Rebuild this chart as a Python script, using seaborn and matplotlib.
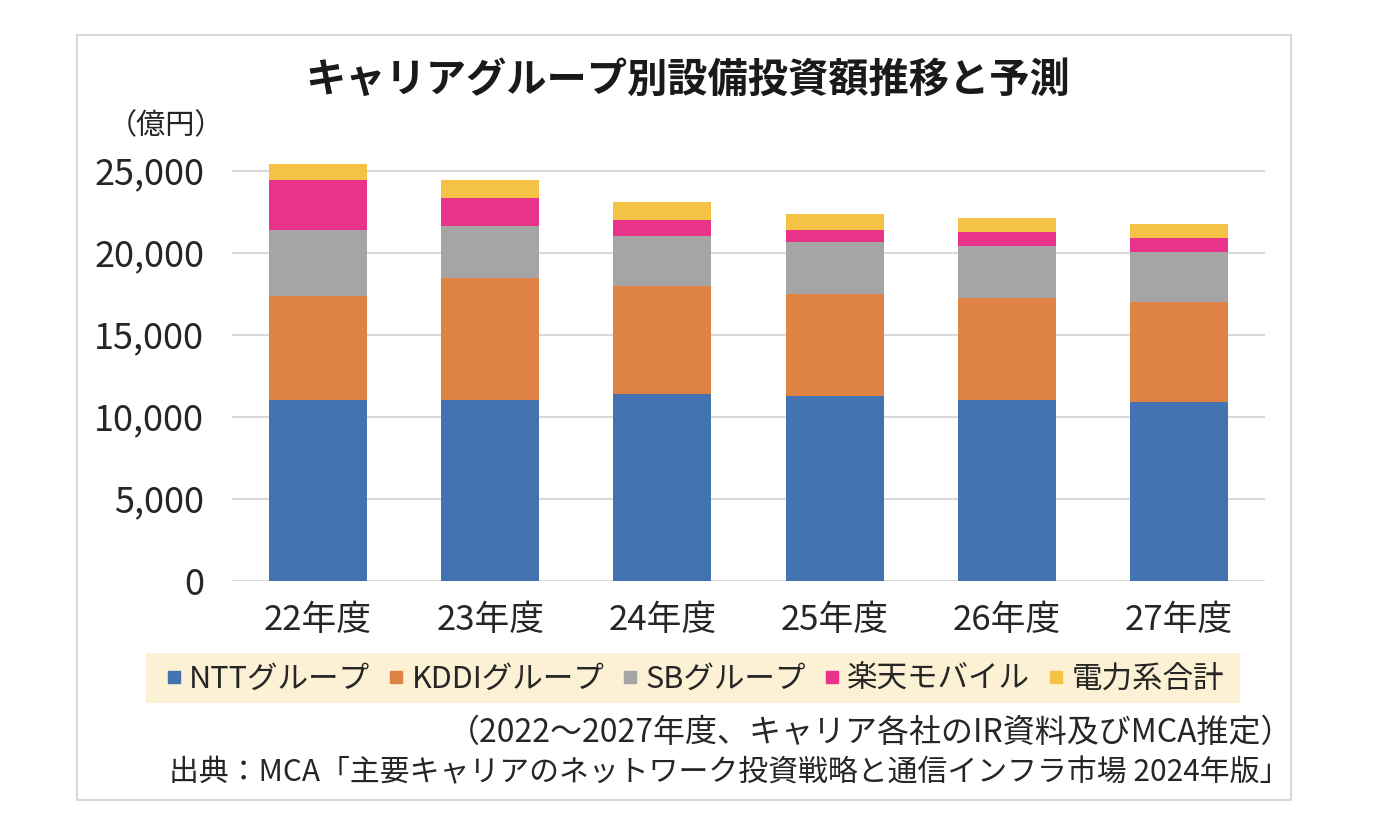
import numpy as np
import pandas as pd
import matplotlib
matplotlib.use("Agg")
import matplotlib.pyplot as plt
from matplotlib.patches import Rectangle
from matplotlib.lines import Line2D
import seaborn as sns

# data (億円)
years = ['22年度', '23年度', '24年度', '25年度', '26年度', '27年度']
groups = ['NTTグループ', 'KDDIグループ', 'SBグループ', '楽天モバイル', '電力系合計']
ntt = [11000, 11020, 11400, 11280, 11040, 10920]
kddi = [6360, 7460, 6590, 6220, 6220, 6080]
sb = [4020, 3150, 3030, 3150, 3150, 3050]
rakuten = [3050, 1730, 1000, 730, 870, 870]
power = [980, 1080, 1100, 1000, 850, 850]
colors = ['#4373B1', '#DF8344', '#A5A5A5', '#E9338A', '#F4C245']

title = 'キャリアグループ別設備投資額推移と予測'
note1 = '（2022～2027年度、キャリア各社のIR資料及びMCA推定）'
note2 = '出典：MCA「主要キャリアのネットワーク投資戦略と通信インフラ市場 2024年版」'

sns.set_theme(style='white')
plt.rcParams['font.family'] = ['Noto Sans CJK JP', 'DejaVu Sans']

W, H = 1382, 838
fig = plt.figure(figsize=(W / 100, H / 100), dpi=100)
fig.patch.set_facecolor('white')


def fx(px):
    return px / W


def fy(py):
    return 1 - py / H


ax = fig.add_axes([fx(232), fy(580.7), fx(1265) - fx(232), fy(154.3) - fy(580.7)])

# stacked bars: draw cumulative totals, tallest first
df = pd.DataFrame({'year': years, 'NTT': ntt, 'KDDI': kddi, 'SB': sb,
                   'Rakuten': rakuten, 'Power': power})
cols = ['NTT', 'KDDI', 'SB', 'Rakuten', 'Power']
cum = df[cols].cumsum(axis=1)
for i in reversed(range(len(cols))):
    sns.barplot(x=df['year'], y=cum[cols[i]], color=colors[i], width=0.57,
                saturation=1, ax=ax, linewidth=0, zorder=3)

ax.set_ylim(0, 26000)
ax.set_xlim(-0.5, 5.5)
ax.set_yticks(np.arange(0, 25001, 5000))
ax.set_yticklabels([f'{v:,}' for v in range(0, 25001, 5000)])
ax.yaxis.grid(True, color='#D9D9D9', linewidth=1.5, zorder=0)
ax.set_axisbelow(True)
for s in ax.spines.values():
    s.set_visible(False)
ax.set_xlabel('')
ax.set_ylabel('')
ax.tick_params(axis='y', length=0, pad=20, labelsize=26, labelcolor='#262626')
ax.tick_params(axis='x', length=0, pad=16, labelsize=25, labelcolor='#262626')

# outer frame
fig.patches.append(Rectangle((fx(77), fy(800)), fx(1291) - fx(77), fy(35) - fy(800),
                             transform=fig.transFigure, fill=False,
                             edgecolor='#D9D9D9', linewidth=1.5))

fig.text(fx(688), fy(80), title, ha='center', va='center', fontsize=29,
         fontweight='bold', color='#1a1a1a')
fig.text(fx(166), fy(126), '（億円）', ha='center', va='center', fontsize=21,
         color='#262626')

# legend with beige band
fig.patches.append(Rectangle((fx(146), fy(703)), fx(1240) - fx(146), fy(653) - fy(703),
                             transform=fig.transFigure, facecolor='#FCF1D4',
                             edgecolor='none'))
handles = [Line2D([0], [0], marker='s', linestyle='none', markersize=8,
                  markerfacecolor=c, markeredgecolor=c) for c in colors]
fig.legend(handles, groups, loc='center', bbox_to_anchor=(fx(695), fy(679)),
           ncol=5, frameon=False, fontsize=22, handlelength=0.5,
           handletextpad=0.25, columnspacing=0.6, labelcolor='#262626')

fig.text(fx(1293), fy(733), note1, ha='right', va='center', fontsize=23,
         color='#262626')
fig.text(fx(1289), fy(773), note2, ha='right', va='center', fontsize=21.5,
         color='#262626')

fig.savefig('out.png', dpi=100, facecolor='white')
